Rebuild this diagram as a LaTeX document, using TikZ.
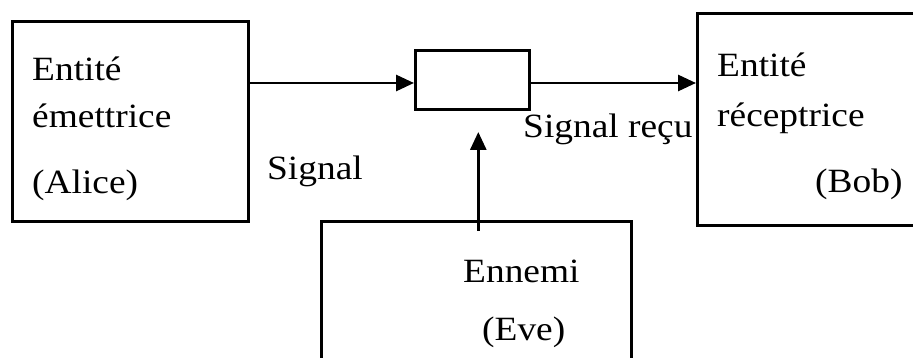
\documentclass[tikz,border=0pt]{standalone}
\usepackage{fontspec}
\setmainfont{Liberation Serif}[FakeStretch=1.1]
\usetikzlibrary{arrows.meta}
\begin{document}
\begin{tikzpicture}[x=1pt,y=-1pt,
  box/.style={draw,line width=2.6pt,inner sep=0pt,anchor=north west},
  arr/.style={line width=2.8pt,-{Triangle[length=18pt,width=16pt]}},
  lbl/.style={anchor=base west,inner sep=0pt,font=\fontsize{34}{40}\selectfont}]
\useasboundingbox (0,0) rectangle (913,358);
\clip (0,0) rectangle (913,358);
\node[box,minimum width=236pt,minimum height=200pt] (alice) at (11,20) {};
\node[box,minimum width=114pt,minimum height=59pt] (mid) at (414,49) {};
\node[box,minimum width=260pt,minimum height=212pt] (bob) at (696,12) {};
\node[box,minimum width=310pt,minimum height=160pt] (eve) at (320,220) {};
\node[lbl] (t1) at (32,81) {Entité};
\node[lbl] (t2) at (32,128) {émettrice};
\node[lbl] (t3) at (32,194) {(Alice)};
\node[lbl] (t4) at (267,180) {Signal};
\node[lbl] (t5) at (523,138) {Signal reçu};
\node[lbl] (t6) at (717,77) {Entité};
\node[lbl] (t7) at (717,127) {réceptrice};
\node[lbl] (t8) at (815,193) {(Bob)};
\node[lbl] (t9) at (463,282) {Ennemi};
\node[lbl] (t10) at (482,340) {(Eve)};
\draw[arr] (alice.east |- 0,83) -- (mid.west |- 0,83);
\draw[arr] (mid.east |- 0,83) -- (bob.west |- 0,83);
\draw[arr] ([xshift=2pt,yshift=-11pt]eve.north) -- ([xshift=2pt]eve.north |- 0,132);
\end{tikzpicture}
\end{document}
